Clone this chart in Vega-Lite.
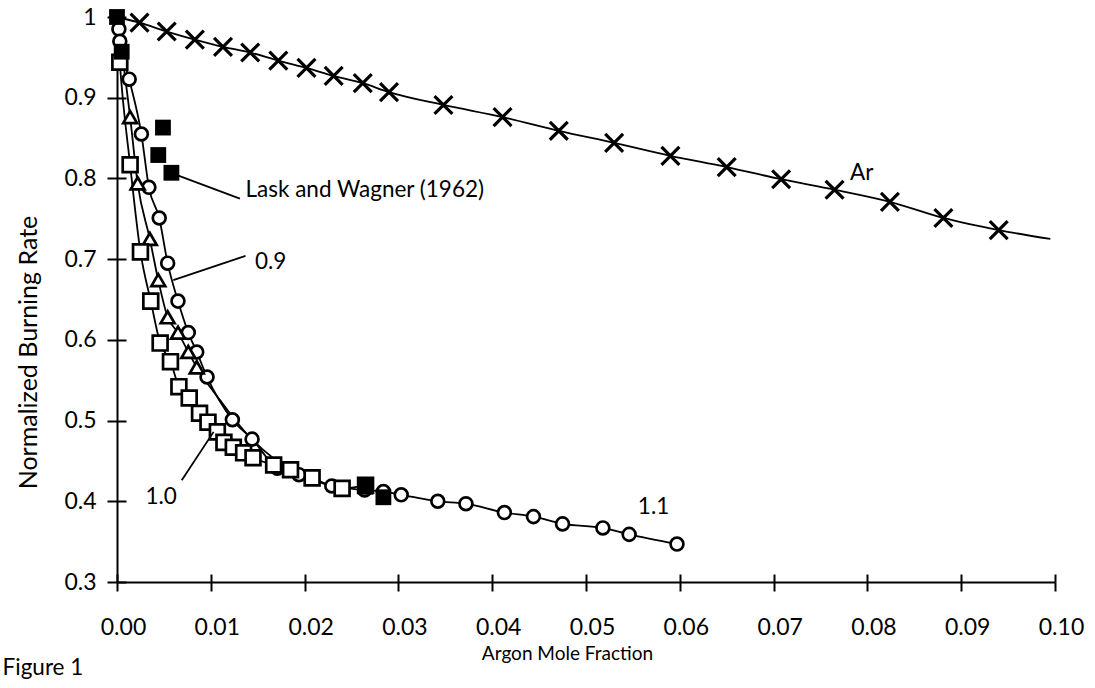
{
  "$schema": "https://vega.github.io/schema/vega-lite/v6.json",
  "width": 938,
  "height": 565,
  "autosize": {"type": "none"},
  "padding": {"left": 117, "top": 17, "right": 40, "bottom": 106},
  "background": "white",
  "config": {
    "view": {"stroke": null},
    "font": "Lato",
    "axis": {
      "grid": false,
      "domainColor": "black",
      "domainWidth": 2,
      "tickColor": "black",
      "tickWidth": 2,
      "labelColor": "black",
      "titleColor": "black",
      "labelFont": "Lato",
      "titleFont": "Lato",
      "labelFontSize": 23,
      "titleFontSize": 20,
      "titleFontWeight": "normal"
    }
  },
  "datasets": {
    "points": [
      {"series": "Ar", "x": 0.0, "y": 1.0},
      {"series": "Ar", "x": 0.0024, "y": 0.993},
      {"series": "Ar", "x": 0.0053, "y": 0.982},
      {"series": "Ar", "x": 0.0083, "y": 0.972},
      {"series": "Ar", "x": 0.0113, "y": 0.963},
      {"series": "Ar", "x": 0.0142, "y": 0.956},
      {"series": "Ar", "x": 0.0172, "y": 0.946},
      {"series": "Ar", "x": 0.0202, "y": 0.937},
      {"series": "Ar", "x": 0.0231, "y": 0.927},
      {"series": "Ar", "x": 0.0262, "y": 0.918},
      {"series": "Ar", "x": 0.029, "y": 0.907},
      {"series": "Ar", "x": 0.0348, "y": 0.891},
      {"series": "Ar", "x": 0.0411, "y": 0.876},
      {"series": "Ar", "x": 0.0471, "y": 0.859},
      {"series": "Ar", "x": 0.053, "y": 0.844},
      {"series": "Ar", "x": 0.059, "y": 0.828},
      {"series": "Ar", "x": 0.065, "y": 0.814},
      {"series": "Ar", "x": 0.0708, "y": 0.799},
      {"series": "Ar", "x": 0.0765, "y": 0.786},
      {"series": "Ar", "x": 0.0824, "y": 0.771},
      {"series": "Ar", "x": 0.0881, "y": 0.751},
      {"series": "Ar", "x": 0.094, "y": 0.736},
      {"series": "Ar", "x": 0.0995, "y": 0.725, "fitOnly": true},

      {"series": "1.1", "x": 0.0, "y": 1.0, "fitOnly": true},
      {"series": "1.1", "x": 0.0002, "y": 0.985},
      {"series": "1.1", "x": 0.0003, "y": 0.97},
      {"series": "1.1", "x": 0.0013, "y": 0.923},
      {"series": "1.1", "x": 0.0026, "y": 0.855},
      {"series": "1.1", "x": 0.0034, "y": 0.789},
      {"series": "1.1", "x": 0.0045, "y": 0.751},
      {"series": "1.1", "x": 0.0054, "y": 0.695},
      {"series": "1.1", "x": 0.0065, "y": 0.648},
      {"series": "1.1", "x": 0.0076, "y": 0.609},
      {"series": "1.1", "x": 0.0085, "y": 0.585},
      {"series": "1.1", "x": 0.0096, "y": 0.554},
      {"series": "1.1", "x": 0.0123, "y": 0.501},
      {"series": "1.1", "x": 0.0144, "y": 0.477},
      {"series": "1.1", "x": 0.0171, "y": 0.441},
      {"series": "1.1", "x": 0.0194, "y": 0.433},
      {"series": "1.1", "x": 0.0229, "y": 0.419},
      {"series": "1.1", "x": 0.0264, "y": 0.414},
      {"series": "1.1", "x": 0.0284, "y": 0.412},
      {"series": "1.1", "x": 0.0303, "y": 0.408},
      {"series": "1.1", "x": 0.0342, "y": 0.4},
      {"series": "1.1", "x": 0.0372, "y": 0.397},
      {"series": "1.1", "x": 0.0413, "y": 0.386},
      {"series": "1.1", "x": 0.0444, "y": 0.381},
      {"series": "1.1", "x": 0.0475, "y": 0.372},
      {"series": "1.1", "x": 0.0518, "y": 0.367},
      {"series": "1.1", "x": 0.0546, "y": 0.359},
      {"series": "1.1", "x": 0.0597, "y": 0.347},

      {"series": "0.9", "x": 0.0, "y": 1.0, "fitOnly": true},
      {"series": "0.9", "x": 0.0014, "y": 0.876},
      {"series": "0.9", "x": 0.0022, "y": 0.794},
      {"series": "0.9", "x": 0.0035, "y": 0.725},
      {"series": "0.9", "x": 0.0044, "y": 0.674},
      {"series": "0.9", "x": 0.0054, "y": 0.628},
      {"series": "0.9", "x": 0.0065, "y": 0.609},
      {"series": "0.9", "x": 0.0076, "y": 0.585},
      {"series": "0.9", "x": 0.0085, "y": 0.566},
      {"series": "0.9", "x": 0.011, "y": 0.525, "fitOnly": true},
      {"series": "0.9", "x": 0.0135, "y": 0.488, "fitOnly": true},
      {"series": "0.9", "x": 0.0165, "y": 0.455, "fitOnly": true},
      {"series": "0.9", "x": 0.02, "y": 0.434, "fitOnly": true},

      {"series": "1.0", "x": 0.0, "y": 1.0, "fitOnly": true},
      {"series": "1.0", "x": 0.0003, "y": 0.944},
      {"series": "1.0", "x": 0.0014, "y": 0.817},
      {"series": "1.0", "x": 0.0025, "y": 0.709},
      {"series": "1.0", "x": 0.0036, "y": 0.648},
      {"series": "1.0", "x": 0.0046, "y": 0.596},
      {"series": "1.0", "x": 0.0057, "y": 0.573},
      {"series": "1.0", "x": 0.0066, "y": 0.542},
      {"series": "1.0", "x": 0.0077, "y": 0.528},
      {"series": "1.0", "x": 0.0088, "y": 0.509},
      {"series": "1.0", "x": 0.0097, "y": 0.498},
      {"series": "1.0", "x": 0.0107, "y": 0.486},
      {"series": "1.0", "x": 0.0114, "y": 0.473},
      {"series": "1.0", "x": 0.0124, "y": 0.467},
      {"series": "1.0", "x": 0.0135, "y": 0.46},
      {"series": "1.0", "x": 0.0145, "y": 0.454},
      {"series": "1.0", "x": 0.0167, "y": 0.445},
      {"series": "1.0", "x": 0.0185, "y": 0.439},
      {"series": "1.0", "x": 0.0208, "y": 0.429},
      {"series": "1.0", "x": 0.024, "y": 0.416},
      {"series": "1.0", "x": 0.0265, "y": 0.42},

      {"series": "Lask and Wagner (1962)", "x": 0.0, "y": 1.0},
      {"series": "Lask and Wagner (1962)", "x": 0.0005, "y": 0.957},
      {"series": "Lask and Wagner (1962)", "x": 0.0049, "y": 0.863},
      {"series": "Lask and Wagner (1962)", "x": 0.0044, "y": 0.829},
      {"series": "Lask and Wagner (1962)", "x": 0.0058, "y": 0.807},
      {"series": "Lask and Wagner (1962)", "x": 0.0265, "y": 0.418},
      {"series": "Lask and Wagner (1962)", "x": 0.0284, "y": 0.405}
    ],
    "leaders": [
      {"x": 0.0064, "y": 0.804, "x2": 0.0131, "y2": 0.775},
      {"x": 0.006, "y": 0.674, "x2": 0.0137, "y2": 0.704},
      {"x": 0.0069, "y": 0.426, "x2": 0.0103, "y2": 0.486}
    ],
    "labels": [
      {"x": 0.0137, "y": 0.786, "text": "Lask and Wagner (1962)"},
      {"x": 0.0147, "y": 0.697, "text": "0.9"},
      {"x": 0.0047, "y": 0.405, "text": "1.0"},
      {"x": 0.0572, "y": 0.393, "text": "1.1"},
      {"x": 0.0794, "y": 0.807, "text": "Ar"},
      {"x": -0.0122, "y": 0.193, "text": "Figure 1"}
    ]
  },
  "resolve": {"axis": {"x": "independent", "y": "independent"}},
  "layer": [
    {
      "data": {"name": "points"},
      "transform": [{"filter": "datum.series != 'Lask and Wagner (1962)'"}],
      "mark": {"type": "line", "interpolate": "monotone", "stroke": "black", "strokeWidth": 1.8},
      "encoding": {
        "x": {"field": "x", "type": "quantitative", "scale": {"domain": [0, 0.1], "nice": false, "zero": false},
          "axis": {"orient": "bottom", "values": [0, 0.01, 0.02, 0.03, 0.04, 0.05, 0.06, 0.07, 0.08, 0.09, 0.1], "format": ".2f", "tickSize": 9, "labelPadding": 25, "labelFlush": false, "labelOffset": 6, "title": "Argon Mole Fraction", "titleFontSize": 19, "titlePadding": 5, "titleX": 450}},
        "y": {"field": "y", "type": "quantitative", "scale": {"domain": [0.3, 1.0], "nice": false, "zero": false},
          "axis": {"orient": "left", "values": [0.3, 0.4, 0.5, 0.6, 0.7, 0.8, 0.9, 1.0], "labelExpr": "datum.value == 1 ? '1' : format(datum.value, '.1f')", "tickSize": 10, "labelPadding": 11, "title": "Normalized Burning Rate", "titleFontSize": 25, "titlePadding": 22, "titleY": 335}},
        "detail": {"field": "series"},
        "order": {"field": "x", "type": "quantitative"}
      }
    },
    {
      "data": {"name": "points"},
      "transform": [{"filter": "(datum.series == '1.0' || datum.series == '0.9' || datum.series == '1.1') && !datum.fitOnly"}],
      "mark": {"type": "point", "filled": true, "fill": "white", "stroke": "black", "strokeWidth": 2.7, "opacity": 1},
      "encoding": {
        "x": {"field": "x", "type": "quantitative", "axis": {"orient": "bottom", "values": [0, 0.01, 0.02, 0.03, 0.04, 0.05, 0.06, 0.07, 0.08, 0.09, 0.1], "tickSize": -8, "labels": false, "domain": false, "title": null}},
        "y": {"field": "y", "type": "quantitative", "axis": {"orient": "left", "values": [0.3, 0.4, 0.5, 0.6, 0.7, 0.8, 0.9, 1.0], "tickSize": -9, "labels": false, "domain": false, "title": null}},
        "shape": {"field": "series", "type": "nominal", "scale": {"domain": ["1.0", "0.9", "1.1"], "range": ["square", "triangle-up", "circle"]}, "legend": null},
        "size": {"field": "series", "type": "nominal", "scale": {"domain": ["1.0", "0.9", "1.1"], "range": [220, 165, 175]}, "legend": null}
      }
    },
    {
      "data": {"name": "points"},
      "transform": [{"filter": "datum.series == 'Ar' && !datum.fitOnly && datum.x > 0"}],
      "mark": {"type": "point", "shape": "M-1,-1L1,1M1,-1L-1,1", "size": 320, "stroke": "black", "strokeWidth": 3.2, "filled": false, "opacity": 1},
      "encoding": {
        "x": {"field": "x", "type": "quantitative", "axis": null},
        "y": {"field": "y", "type": "quantitative", "axis": null}
      }
    },
    {
      "data": {"name": "points"},
      "transform": [{"filter": "datum.series == 'Lask and Wagner (1962)'"}],
      "mark": {"type": "square", "size": 250, "color": "black", "opacity": 1},
      "encoding": {
        "x": {"field": "x", "type": "quantitative", "axis": null},
        "y": {"field": "y", "type": "quantitative", "axis": null}
      }
    },
    {
      "data": {"name": "leaders"},
      "mark": {"type": "rule", "stroke": "black", "strokeWidth": 1.8},
      "encoding": {
        "x": {"field": "x", "type": "quantitative", "axis": null},
        "y": {"field": "y", "type": "quantitative", "axis": null},
        "x2": {"field": "x2"},
        "y2": {"field": "y2"}
      }
    },
    {
      "data": {"name": "labels"},
      "transform": [{"filter": "datum.text == 'Lask and Wagner (1962)' || datum.text == '0.9' || datum.text == 'Figure 1'"}],
      "mark": {"type": "text", "font": "Lato", "fontSize": 22.5, "color": "black", "baseline": "middle", "align": "left"},
      "encoding": {
        "x": {"field": "x", "type": "quantitative", "axis": null},
        "y": {"field": "y", "type": "quantitative", "axis": null},
        "text": {"field": "text"}
      }
    },
    {
      "data": {"name": "labels"},
      "transform": [{"filter": "datum.text == '1.0' || datum.text == '1.1' || datum.text == 'Ar'"}],
      "mark": {"type": "text", "font": "Lato", "fontSize": 22.5, "color": "black", "baseline": "middle", "align": "center"},
      "encoding": {
        "x": {"field": "x", "type": "quantitative", "axis": null},
        "y": {"field": "y", "type": "quantitative", "axis": null},
        "text": {"field": "text"}
      }
    }
  ]
}
